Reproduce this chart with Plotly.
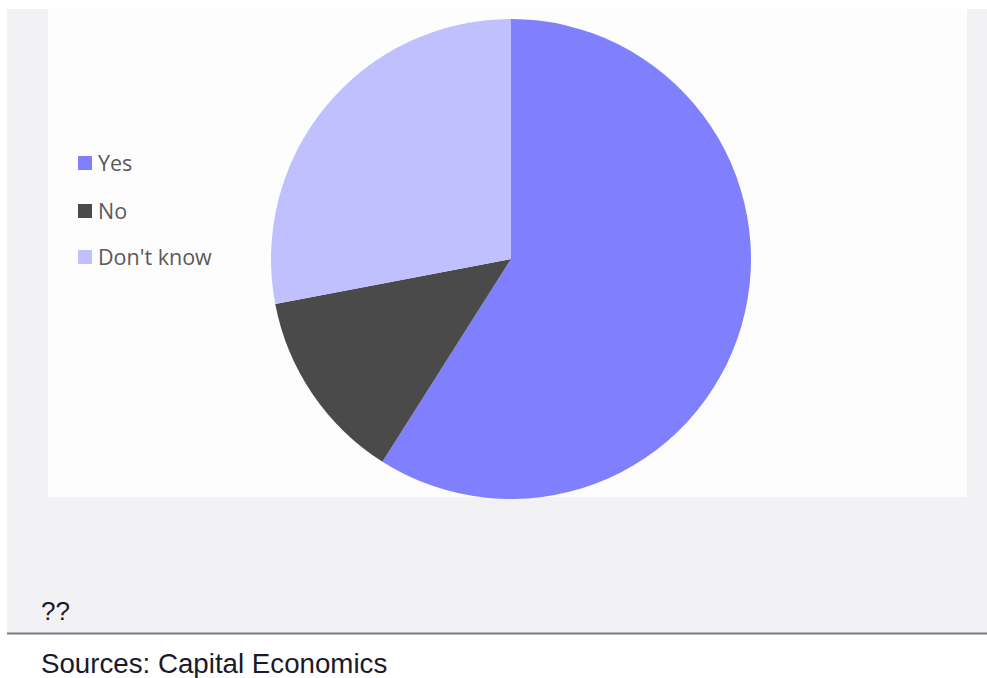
import plotly.graph_objects as go

labels = ["Yes", "No", "Don't know"]
values = [59, 13, 28]
colors = ["#8080ff", "#4a4a4a", "#c0c0ff"]

W, H = 987, 678

def px(x):
    return x / W

def py(y):
    return 1 - y / H

fig = go.Figure()
fig.add_trace(go.Pie(
    labels=labels, values=values, sort=False, direction="clockwise", rotation=0,
    marker=dict(colors=colors, line=dict(width=0)),
    textinfo="none", hoverinfo="label+percent", showlegend=False,
    domain=dict(x=[px(271), px(751)], y=[py(499), py(19)]),
))

shapes = [
    dict(type="rect", xref="paper", yref="paper", x0=px(7), x1=px(987), y0=py(633), y1=py(9),
         fillcolor="#f2f2f4", line=dict(width=0), layer="below"),
    dict(type="rect", xref="paper", yref="paper", x0=px(48), x1=px(967), y0=py(497), y1=py(9),
         fillcolor="#fdfdfd", line=dict(width=0), layer="below"),
    dict(type="line", xref="paper", yref="paper", x0=px(7), x1=px(987), y0=py(633.5), y1=py(633.5),
         line=dict(color="#7a7a82", width=2)),
]
annotations = []
leg_y = [162, 210, 256]
for lab, col, y in zip(labels, colors, leg_y):
    shapes.append(dict(type="rect", xref="paper", yref="paper", x0=px(78), x1=px(92),
                       y0=py(y + 8), y1=py(y - 6), fillcolor=col, line=dict(width=0)))
    annotations.append(dict(text=lab, xref="paper", yref="paper", x=px(96), y=py(y),
                            xanchor="left", yanchor="middle", showarrow=False,
                            font=dict(family="Open Sans", size=21.5, color="#595959")))

annotations.append(dict(text="??", xref="paper", yref="paper", x=px(39), y=py(611),
                        xanchor="left", yanchor="middle", showarrow=False,
                        font=dict(family="Liberation Sans", size=26, color="#1a1a2a")))
annotations.append(dict(text="Sources: Capital Economics", xref="paper", yref="paper", x=px(39), y=py(663),
                        xanchor="left", yanchor="middle", showarrow=False,
                        font=dict(family="Liberation Sans", size=27.7, color="#1a1a2a")))

fig.update_layout(
    width=W, height=H, margin=dict(l=0, r=0, t=0, b=0),
    paper_bgcolor="white", plot_bgcolor="white",
    shapes=shapes, annotations=annotations,
)
fig.write_html("out.html")
